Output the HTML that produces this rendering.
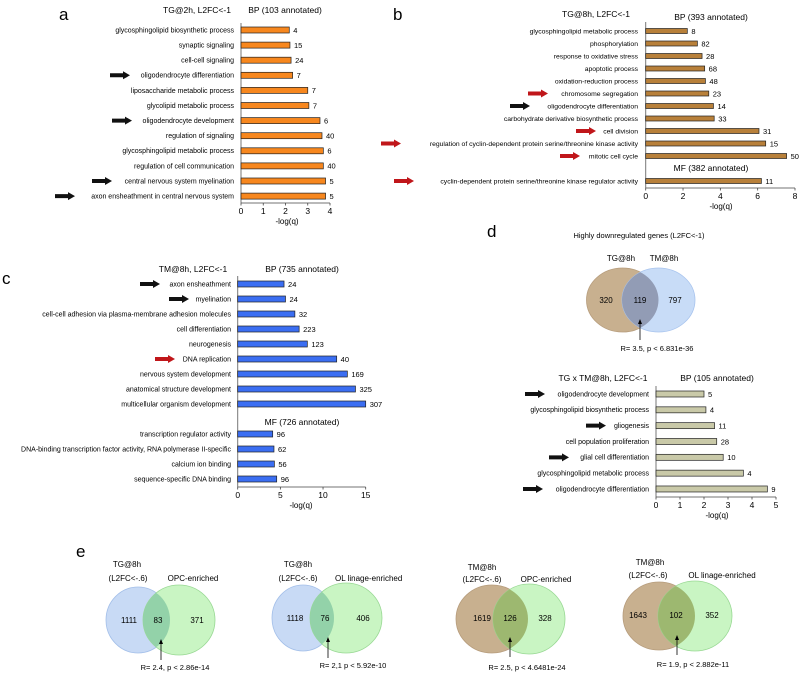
<!DOCTYPE html>
<html><head><meta charset="utf-8"><style>
html,body{margin:0;padding:0;background:#fff;}
svg{display:block;font-family:"Liberation Sans",Arial,sans-serif;}
</style></head><body>
<svg id="fig" width="800" height="674" viewBox="0 0 800 674" xmlns="http://www.w3.org/2000/svg">
<defs>
<clipPath id="cd1"><ellipse cx="622.5" cy="300" rx="36" ry="32"/></clipPath>
<clipPath id="ce1"><ellipse cx="138" cy="620" rx="32" ry="33"/></clipPath>
<clipPath id="ce2"><ellipse cx="303" cy="618" rx="31" ry="33"/></clipPath>
<clipPath id="ce3"><ellipse cx="492" cy="619" rx="36" ry="34"/></clipPath>
<clipPath id="ce4"><ellipse cx="659" cy="616" rx="36" ry="34"/></clipPath>
</defs>
<g id="panels"></g>
<text x="59" y="20" font-size="17">a</text>
<text x="393" y="20" font-size="17">b</text>
<text x="2" y="284" font-size="17">c</text>
<text x="487" y="237" font-size="17">d</text>
<text x="76" y="557" font-size="17">e</text>

<g font-size="8">
<text x="639" y="238" text-anchor="middle" font-size="7.5">Highly downregulated genes (L2FC&lt;-1)</text>
<ellipse cx="622.5" cy="300" rx="36" ry="32" fill="#c8b08f" stroke="#b69c7c" stroke-width="0.8"/>
<ellipse cx="658.5" cy="300" rx="36.5" ry="32" fill="#c8dcf7" stroke="#a8c4ee" stroke-width="0.8"/>
<ellipse cx="658.5" cy="300" rx="36.5" ry="32" fill="#929cb5" clip-path="url(#cd1)"/>
<text x="621" y="261" text-anchor="middle">TG@8h</text>
<text x="664" y="261" text-anchor="middle">TM@8h</text>
<text x="606" y="303" text-anchor="middle">320</text>
<text x="640" y="303" text-anchor="middle">119</text>
<text x="675" y="303" text-anchor="middle">797</text>
<line x1="640" y1="340" x2="640" y2="322" stroke="#000" stroke-width="0.8"/>
<polygon points="638,324 642,324 640,319" fill="#000"/>
<text x="657" y="351" text-anchor="middle" font-size="7.5">R= 3.5, p &lt; 6.831e-36</text>
</g>

<g font-size="8">
<ellipse cx="138" cy="620" rx="32" ry="33" fill="#c8daf5" stroke="#a3bfe9" stroke-width="0.8"/>
<ellipse cx="179" cy="620" rx="36" ry="35" fill="#c9f5c3" stroke="#98d893" stroke-width="0.8"/>
<ellipse cx="179" cy="620" rx="36" ry="35" fill="#93d2a9" clip-path="url(#ce1)"/>
<text x="127" y="567" text-anchor="middle">TG@8h</text>
<text x="128" y="581" text-anchor="middle">(L2FC&lt;-.6)</text>
<text x="193" y="581" text-anchor="middle">OPC-enriched</text>
<text x="129" y="623" text-anchor="middle">1111</text>
<text x="158" y="623" text-anchor="middle">83</text>
<text x="197" y="623" text-anchor="middle">371</text>
<line x1="161" y1="660" x2="161" y2="642" stroke="#000" stroke-width="0.8"/>
<polygon points="159,644 163,644 161,639" fill="#000"/>
<text x="175" y="670" text-anchor="middle" font-size="7.5">R= 2.4, p &lt; 2.86e-14</text>
</g>
<g font-size="8">
<ellipse cx="303" cy="618" rx="31" ry="33" fill="#c8daf5" stroke="#a3bfe9" stroke-width="0.8"/>
<ellipse cx="346" cy="618" rx="36" ry="35" fill="#c9f5c3" stroke="#98d893" stroke-width="0.8"/>
<ellipse cx="346" cy="618" rx="36" ry="35" fill="#93d2a9" clip-path="url(#ce2)"/>
<text x="298" y="567" text-anchor="middle">TG@8h</text>
<text x="298" y="581" text-anchor="middle">(L2FC&lt;-.6)</text>
<text x="335" y="581">OL linage-enriched</text>
<text x="295" y="621" text-anchor="middle">1118</text>
<text x="325" y="621" text-anchor="middle">76</text>
<text x="363" y="621" text-anchor="middle">406</text>
<line x1="328" y1="658" x2="328" y2="640" stroke="#000" stroke-width="0.8"/>
<polygon points="326,642 330,642 328,637" fill="#000"/>
<text x="353" y="668" text-anchor="middle" font-size="7.5">R= 2,1 p &lt; 5.92e-10</text>
</g>
<g font-size="8">
<ellipse cx="492" cy="619" rx="36" ry="34" fill="#c8b08f" stroke="#b69c7c" stroke-width="0.8"/>
<ellipse cx="529" cy="619" rx="36" ry="35" fill="#c9f5c3" stroke="#98d893" stroke-width="0.8"/>
<ellipse cx="529" cy="619" rx="36" ry="35" fill="#9db870" clip-path="url(#ce3)"/>
<text x="482" y="570" text-anchor="middle">TM@8h</text>
<text x="482" y="582" text-anchor="middle">(L2FC&lt;-.6)</text>
<text x="546" y="582" text-anchor="middle">OPC-enriched</text>
<text x="482" y="621" text-anchor="middle">1619</text>
<text x="510" y="621" text-anchor="middle">126</text>
<text x="545" y="621" text-anchor="middle">328</text>
<line x1="510" y1="657" x2="510" y2="640" stroke="#000" stroke-width="0.8"/>
<polygon points="508,642 512,642 510,637" fill="#000"/>
<text x="527" y="670" text-anchor="middle" font-size="7.5">R= 2.5, p &lt; 4.6481e-24</text>
</g>
<g font-size="8">
<ellipse cx="659" cy="616" rx="36" ry="34" fill="#c8b08f" stroke="#b69c7c" stroke-width="0.8"/>
<ellipse cx="695" cy="616" rx="37" ry="35" fill="#c9f5c3" stroke="#98d893" stroke-width="0.8"/>
<ellipse cx="695" cy="616" rx="37" ry="35" fill="#9db870" clip-path="url(#ce4)"/>
<text x="650" y="565" text-anchor="middle">TM@8h</text>
<text x="648" y="578" text-anchor="middle">(L2FC&lt;-.6)</text>
<text x="722" y="578" text-anchor="middle">OL linage-enriched</text>
<text x="638" y="618" text-anchor="middle">1643</text>
<text x="676" y="618" text-anchor="middle">102</text>
<text x="712" y="618" text-anchor="middle">352</text>
<line x1="677" y1="655" x2="677" y2="638" stroke="#000" stroke-width="0.8"/>
<polygon points="675,640 679,640 677,635" fill="#000"/>
<text x="693" y="667" text-anchor="middle" font-size="7.5">R= 1.9, p &lt; 2.882e-11</text>
</g>
</svg>
<script>
// ---- Panel a data ----
const aLabels = ["glycosphingolipid biosynthetic process","synaptic signaling","cell-cell signaling","oligodendrocyte differentiation","liposaccharide metabolic process","glycolipid metabolic process","oligodendrocyte development","regulation of signaling","glycosphingolipid metabolic process","regulation of cell communication","central nervous system myelination","axon ensheathment in central nervous system"];
const aValues = [2.17,2.2,2.25,2.32,3.0,3.05,3.55,3.64,3.7,3.7,3.8,3.8];
const aCounts = ["4","15","24","7","7","7","6","40","6","40","5","5"];
const aTicks = [0,1,2,3,4];
// ---- Panel b data ----
const bLabels = ["glycosphingolipid metabolic process","phosphorylation","response to oxidative stress","apoptotic process","oxidation-reduction process","chromosome segregation","oligodendrocyte differentiation","carbohydrate derivative biosynthetic process","cell division","regulation of cyclin-dependent protein serine/threonine kinase activity","mitotic cell cycle","cyclin-dependent protein serine/threonine kinase regulator activity"];
const bValues = [2.23,2.77,3.02,3.16,3.2,3.38,3.63,3.67,6.07,6.43,7.55,6.2];
const bCounts = ["8","82","28","68","48","23","14","33","31","15","50","11"];
const bTicks = [0,2,4,6,8];
// ---- Panel c data ----
const cLabels = ["axon ensheathment","myelination","cell-cell adhesion via plasma-membrane adhesion molecules","cell differentiation","neurogenesis","DNA replication","nervous system development","anatomical structure development","multicellular organism development","transcription regulator activity","DNA-binding transcription factor activity, RNA polymerase II-specific","calcium ion binding","sequence-specific DNA binding"];
const cValues = [5.43,5.6,6.7,7.2,8.16,11.6,12.85,13.8,15.0,4.1,4.25,4.3,4.57];
const cCounts = ["24","24","32","223","123","40","169","325","307","96","62","56","96"];
const cTicks = [0,5,10,15];
// ---- Panel d data ----
const dLabels = ["oligodendrocyte development","glycosphingolipid biosynthetic process","gliogenesis","cell population proliferation","glial cell differentiation","glycosphingolipid metabolic process","oligodendrocyte differentiation"];
const dValues = [2.0,2.08,2.44,2.53,2.8,3.64,4.64];
const dCounts = ["5","4","11","28","10","4","9"];
const dTicks = [0,1,2,3,4,5];

const NS="http://www.w3.org/2000/svg";
const root=document.getElementById('panels');
function mk(tag,attrs,parent){const e=document.createElementNS(NS,tag);for(const k in attrs)e.setAttribute(k,attrs[k]);(parent||root).appendChild(e);return e;}
function txt(s,attrs,parent){const e=mk('text',attrs,parent);e.textContent=s;return e;}

function chart(id,labels,values,counts,ticks,L){
  const g=mk('g',{});
  
  
  const max=ticks[ticks.length-1];
  const xs=v=>L.x0+(v/max)*L.w;
  const rowY=i=>L.y0+L.slot(i)*L.step;
  const ax=mk('line',{x1:L.x0,y1:L.top,x2:L.x0,y2:L.bot,stroke:'#777','stroke-width':1},g);
  
  
  const bx=mk('line',{x1:L.x0,y1:L.bot,x2:xs(max),y2:L.bot,stroke:'#444','stroke-width':0.8},g);
  
  
  ticks.forEach(t=>{
    mk('line',{x1:xs(t),y1:L.bot,x2:xs(t),y2:L.bot+2.5,stroke:'#444','stroke-width':0.8},g);
    const tl=txt(String(t),{x:xs(t),y:L.bot+11,'text-anchor':'middle','font-size':8.5},g);
    
    
  });
  const xt=txt('-log(q)',{x:L.xtx,y:L.bot+21,'text-anchor':'middle','font-size':8},g);
  
  
  labels.forEach((lab,i)=>{
    const y=rowY(i);
    const r=mk('rect',{x:L.x0,y:y-L.bh/2,width:xs(values[i])-L.x0,height:L.bh,fill:L.fill,stroke:'#222','stroke-width':0.7},g);
    
    
    const t=txt(lab,{x:L.lx,y:y+2.4,'text-anchor':'end','font-size':L.fs},g);
    
    
    const c=txt(counts[i],{x:xs(values[i])+4,y:y+2.8,'font-size':7.5},g);
    
    
  });
  (L.arrows||[]).forEach(a=>{
    const y=rowY(a[0]),x=a[1],col=a[2];
    const p=mk('polygon',{points:`${x},${y-2} ${x+13},${y-2} ${x+13},${y-4} ${x+20},${y} ${x+13},${y+4} ${x+13},${y+2} ${x},${y+2}`,fill:col},g);
    
    
  });
  (L.titles||[]).forEach(tt=>{
    const t=txt(tt[0],{x:tt[1],y:tt[2],'text-anchor':'middle','font-size':8.5},g);
    
    
  });
}
const K='#111',R='#c0161a';
chart('chart-a',aLabels,aValues,aCounts,aTicks,{x0:241,w:89,y0:30,step:15.1,slot:i=>i,top:23,bot:203,bh:6,fill:'#f7871e',lx:234,fs:7,xtx:287,
  arrows:[[3,110,K],[6,112,K],[10,92,K],[11,55,K]],
  titles:[['TG@2h, L2FC<-1',197,13],['BP (103 annotated)',285,13]]});
chart('chart-b',bLabels,bValues,bCounts,bTicks,{x0:645.7,w:149.3,y0:31,step:12.5,slot:i=>i<11?i:12,top:22,bot:188,bh:5,fill:'#b8803a',lx:638,fs:6.8,xtx:721,
  arrows:[[5,528,R],[6,510,K],[8,576,R],[9,381,R],[10,560,R],[11,394,R]],
  titles:[['TG@8h, L2FC<-1',596,17],['BP (393 annotated)',711,20],['MF (382 annotated)',711,171]]});
chart('chart-c',cLabels,cValues,cCounts,cTicks,{x0:237.7,w:128,y0:284,step:15,slot:i=>i<9?i:i+1,top:276,bot:487,bh:6,fill:'#3b6ef2',lx:231,fs:7,xtx:301,
  arrows:[[0,140,K],[1,169,K],[5,155,R]],
  titles:[['TM@8h, L2FC<-1',193,272],['BP (735 annotated)',302,272],['MF (726 annotated)',302,425]]});
chart('chart-d',dLabels,dValues,dCounts,dTicks,{x0:656,w:120,y0:394,step:15.83,slot:i=>i,top:386,bot:497,bh:6,fill:'#c9c9a8',lx:649,fs:7,xtx:717,
  arrows:[[0,525,K],[2,586,K],[4,549,K],[6,523,K]],
  titles:[['TG x TM@8h, L2FC<-1',603,381],['BP (105 annotated)',717,381]]});
</script>
</body></html>
